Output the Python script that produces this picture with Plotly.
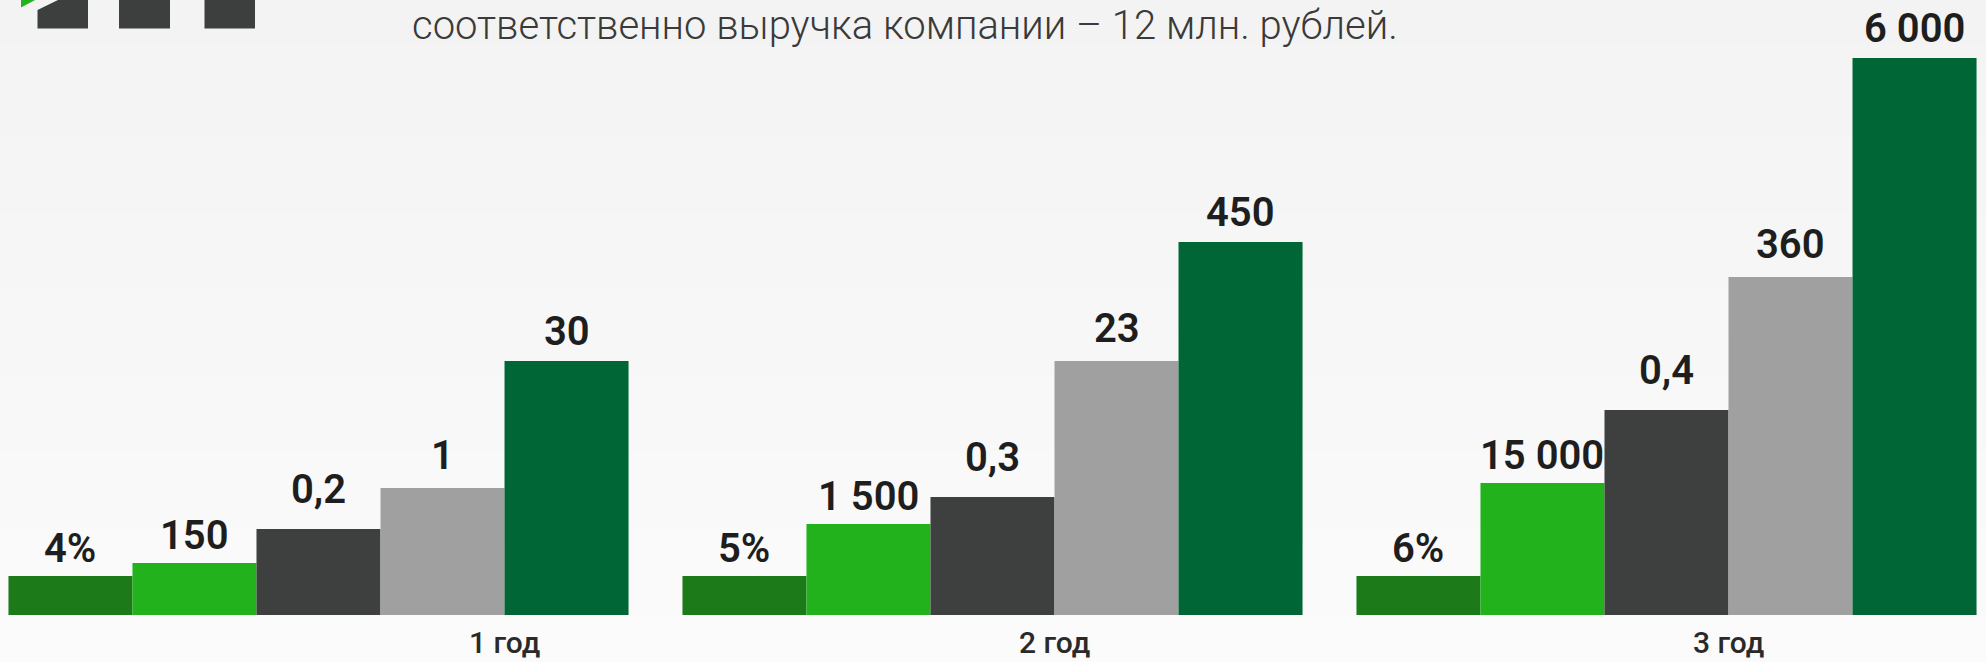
import plotly.graph_objects as go

# ---------------- data ----------------
years = ["1 год", "2 год", "3 год"]

# visual bar heights (the infographic is not drawn to scale)
h_s1 = [39, 39, 39]
h_s2 = [52, 91, 132]
h_s3 = [86, 118, 205]
h_s4 = [127, 254, 338]
h_s5 = [254, 373, 557]

# value labels printed above the bars
lbl_s1 = ["4%", "5%", "6%"]
lbl_s2 = ["150", "1 500", "15 000"]
lbl_s3 = ["0,2", "0,3", "0,4"]
lbl_s4 = ["1", "23", "360"]
lbl_s5 = ["30", "450", "6 000"]

title_text = "соответственно выручка компании – 12 млн. рублей."

# ---------------- styling ----------------
W, H = 1986, 662
MB = 47                      # bottom margin (baseline position)
PH = H - MB                  # plot height in px
colors = ["#1d7a18", "#22b21c", "#3e403f", "#9fa09f", "#006635"]
label_gap = [13, 13, 25, 18, 15]     # px between bar top and label baseline
year_label_offset = [1.5, 0.5, 0.5]  # in bar widths from group centre
bargap = 0.08
bw = (1 - bargap) / 5

heights = [h_s1, h_s2, h_s3, h_s4, h_s5]
labels = [lbl_s1, lbl_s2, lbl_s3, lbl_s4, lbl_s5]

fig = go.Figure()
for i, (hs, col) in enumerate(zip(heights, colors)):
    fig.add_trace(go.Bar(
        x=years, y=hs, marker=dict(color=col, line=dict(width=0)),
        name=f"Показатель {i + 1}", showlegend=False,
        hovertext=labels[i], hoverinfo="text+x",
    ))

annotations = []
VFONT = 40
for i, (hs, lb) in enumerate(zip(heights, labels)):
    for g, (hv, t) in enumerate(zip(hs, lb)):
        annotations.append(dict(
            x=g + (i - 2) * bw, y=hv, xref="x", yref="y",
            text=t, showarrow=False, xanchor="center", yanchor="bottom",
            yshift=label_gap[i] - 0.24 * VFONT - 1,
            font=dict(family="Roboto", size=VFONT, color="#1e1e1e", weight=600),
        ))

for g, yl in enumerate(years):
    annotations.append(dict(
        x=g + year_label_offset[g] * bw, y=0, xref="x", yref="y",
        text=yl, showarrow=False, xanchor="center", yanchor="top",
        yshift=-8,
        font=dict(family="Roboto", size=30, color="#2a2a2a", weight=500),
    ))

# title line at the very top of the picture
TF = 40
annotations.append(dict(
    x=410 / W, y=1.0, xref="paper", yref="paper",
    text=title_text, showarrow=False, xanchor="left", yanchor="top",
    font=dict(family="Roboto", size=TF, color="#3a3a3a", weight=300),
))

# ---------------- background gradient & icon ----------------
def py2paper(py):
    return (PH - py) / PH

shapes = []
n = 44
c0, c1 = (242, 243, 242), (251, 251, 251)
for k in range(n):
    t = k / (n - 1)
    r, gg, b = [round(a + (bb - a) * t) for a, bb in zip(c0, c1)]
    shapes.append(dict(
        type="rect", xref="paper", yref="paper", layer="below",
        x0=-0.01, x1=1.01, y0=py2paper(H * (k + 1) / n + 1), y1=py2paper(H * k / n),
        fillcolor=f"rgb({r},{gg},{b})", line=dict(width=0),
    ))

def poly(pts, color):
    path = "M " + " L ".join(f"{x / W},{py2paper(y)}" for x, y in pts) + " Z"
    return dict(type="path", xref="paper", yref="paper", path=path,
                fillcolor=color, line=dict(width=0), layer="above")

icon_grey = "#3d3f3e"
shapes.append(poly([(37.5, 10), (58, 0), (88, 0), (88, 28.5), (37.5, 28.5)], icon_grey))
shapes.append(poly([(119, -1), (170, -1), (170, 28.5), (119, 28.5)], icon_grey))
shapes.append(poly([(204.5, -1), (255, -1), (255, 28.5), (204.5, 28.5)], icon_grey))
shapes.append(poly([(21, -1), (37, -1), (21, 7.5)], "#22b21c"))

x0 = -(320 - 1.5) / 674
fig.update_layout(
    width=W, height=H,
    margin=dict(l=0, r=0, t=0, b=MB, pad=0),
    paper_bgcolor="#fafafa", plot_bgcolor="rgba(0,0,0,0)",
    barmode="group", bargap=bargap, bargroupgap=0,
    xaxis=dict(type="category", range=[x0, x0 + W / 674], showticklabels=False,
               showgrid=False, zeroline=False, showline=False, ticks=""),
    yaxis=dict(range=[0, PH], visible=False, showgrid=False, zeroline=False),
    annotations=annotations, shapes=shapes,
    font=dict(family="Roboto"),
    hovermode=False,
)

fig.write_html("out.html",
               config={"displayModeBar": False},
               post_script="document.body.style.margin='0';document.body.style.overflow='hidden';")
